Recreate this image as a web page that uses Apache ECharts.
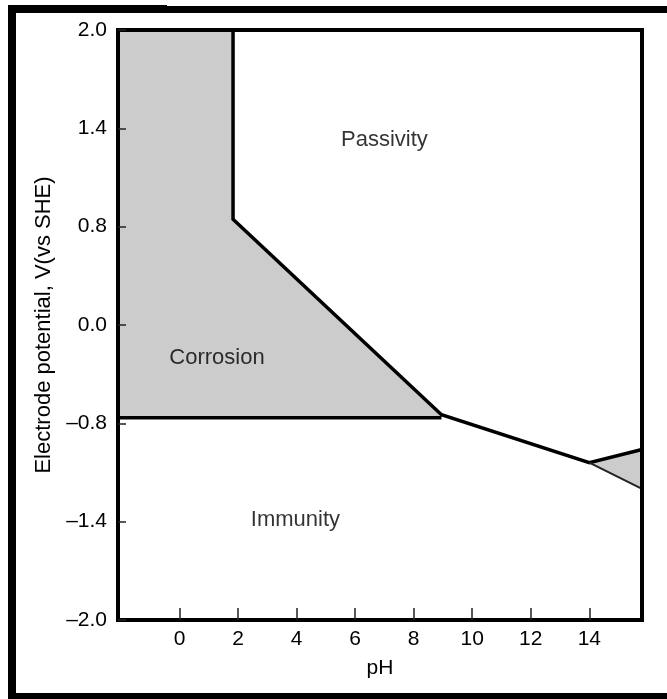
<!DOCTYPE html>
<html>
<head>
<meta charset="utf-8">
<script src="https://cdn.jsdelivr.net/npm/echarts@6/dist/echarts.min.js"></script>
<style>html,body{margin:0;padding:0;background:#fff}#main{width:667px;height:699px}</style>
</head>
<body>
<div id="main"></div>
<script>
var xTicks = [0, 2, 4, 6, 8, 10, 12, 14];
var yTickLabels = [-2.0, -1.4, -0.8, 0.0, 0.8, 1.4, 2.0];
var phMin = -2.1, phMax = 15.8;

// corrosion region (pH, V)
var corrosionPH = [-2.1, 1.83, 1.83, 8.95, 8.95, -2.1];
var corrosionV = [2.0, 2.0, 0.845, -0.73, -0.755, -0.755];
// small shaded wedge at high pH
var wedgePH = [14.0, 15.8, 15.8];
var wedgeV = [-1.04, -0.96, -1.2];
// boundary lines
var upperPH = [1.83, 1.83, 8.95, 14.0, 15.8];
var upperV = [2.0, 0.845, -0.73, -1.04, -0.96];
var flatPH = [-2.1, 8.95];
var flatV = [-0.755, -0.755];
var lowerPH = [14.0, 15.8];
var lowerV = [-1.04, -1.2];

var regionNames = ['Passivity', 'Corrosion', 'Immunity'];
var regionPH = [7.0, 1.28, 3.96];
var regionV = [1.33, -0.27, -1.39];

// the printed tick labels are evenly spaced but not linear, so place
// potentials between the labelled ticks
function toY(v) {
    for (var i = 0; i < yTickLabels.length - 1; i++) {
        if (v <= yTickLabels[i + 1]) {
            return i + (v - yTickLabels[i]) / (yTickLabels[i + 1] - yTickLabels[i]);
        }
    }
    return yTickLabels.length - 1;
}
function pts(ph, v) {
    return ph.map(function (p, i) { return [p, toY(v[i])]; });
}
function fmt(n) {
    return (n < 0 ? '\u2013' : '') + Math.abs(n).toFixed(1);
}
function polygonSeries(data) {
    return {
        type: 'custom',
        data: data,
        z: 1,
        silent: true,
        renderItem: function (params, api) {
            if (params.dataIndex > 0) return;
            var p = data.map(function (d) { return api.coord(d); });
            return { type: 'polygon', shape: { points: p }, style: { fill: '#cccccc' } };
        }
    };
}
function lineSeries(data, w, c) {
    return {
        type: 'line', data: data, symbol: 'none', z: 3, silent: true,
        lineStyle: { color: c, width: w, join: 'miter' }
    };
}

var font = 'Liberation Sans, Arial, sans-serif';
var myChart = echarts.init(document.getElementById('main'));
var option = {
    animation: false,
    grid: { left: 118, right: 25, top: 30, bottom: 79, show: true, borderColor: '#000', borderWidth: 4, z: 4 },
    graphic: [
        { type: 'rect', shape: { x: 8, y: 5, width: 8, height: 694 }, style: { fill: '#000' } },
        { type: 'rect', shape: { x: 8, y: 5, width: 159, height: 8 }, style: { fill: '#000' } },
        { type: 'rect', shape: { x: 8, y: 6, width: 659, height: 7 }, style: { fill: '#000' } },
        { type: 'rect', shape: { x: 8, y: 693, width: 659, height: 6 }, style: { fill: '#000' } }
    ],
    xAxis: {
        type: 'value', min: phMin, max: phMax, z: 5,
        name: 'pH', nameLocation: 'middle', nameGap: 38,
        nameTextStyle: { fontSize: 21, color: '#000', fontFamily: font },
        axisLine: { show: true, onZero: false, lineStyle: { color: '#000', width: 4 } },
        axisTick: { show: true, inside: true, length: 12, customValues: xTicks, lineStyle: { color: '#222', width: 1.5 } },
        axisLabel: { customValues: xTicks, fontSize: 21, color: '#000', margin: 9, fontFamily: font },
        splitLine: { show: false }
    },
    yAxis: {
        type: 'value', min: 0, max: 6, interval: 1, z: 5,
        name: 'Electrode potential, V(vs SHE)', nameLocation: 'middle', nameGap: 58,
        nameTextStyle: { fontSize: 22, color: '#000', fontFamily: font },
        axisLine: { show: true, onZero: false, lineStyle: { color: '#000', width: 4 } },
        axisTick: { show: true, inside: true, length: 8, lineStyle: { color: '#222', width: 1.5 } },
        axisLabel: {
            fontSize: 21, color: '#000', margin: 11, fontFamily: font,
            formatter: function (v) { return fmt(yTickLabels[v]); }
        },
        splitLine: { show: false }
    },
    series: [
        polygonSeries(pts(corrosionPH, corrosionV)),
        polygonSeries(pts(wedgePH, wedgeV)),
        lineSeries(pts(upperPH, upperV), 3.5, '#000'),
        lineSeries(pts(flatPH, flatV), 3.5, '#000'),
        lineSeries(pts(lowerPH, lowerV), 2, '#222'),
        {
            type: 'scatter', symbolSize: 0, z: 6, silent: true,
            data: regionNames.map(function (n, i) { return { name: n, value: [regionPH[i], toY(regionV[i])] }; }),
            label: { show: true, position: 'inside', formatter: '{b}', fontSize: 22, color: '#000', fontFamily: font }
        }
    ]
};
myChart.setOption(option);
</script>
</body>
</html>
